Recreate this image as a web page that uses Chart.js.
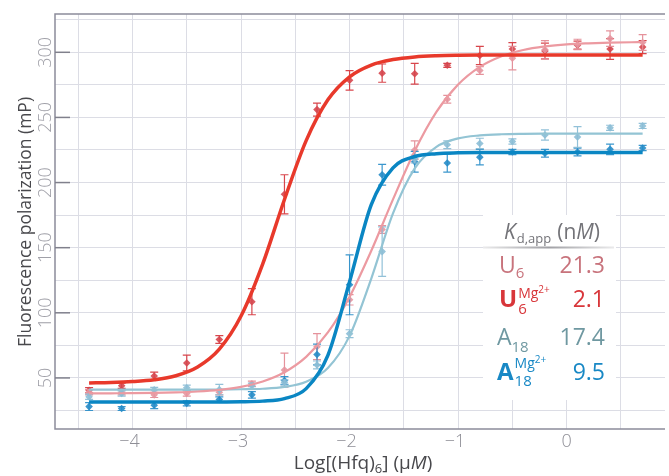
<!DOCTYPE html>
<html>
<head>
<meta charset="utf-8">
<script src="https://cdn.jsdelivr.net/npm/chart.js@4.4.0/dist/chart.umd.min.js"></script>
<style>
  html, body { margin: 0; padding: 0; background: #fff; }
</style>
</head>
<body>
<canvas id="fpChart" width="669" height="476"></canvas>
<script>
// log10 of [(Hfq)6] in uM for each titration point
const logConc = [-4.4, -4.1, -3.8, -3.5, -3.2, -2.9, -2.6, -2.3, -2.0, -1.7, -1.4, -1.1, -0.8, -0.5, -0.2, 0.1, 0.4, 0.7];

// measured polarization (mP) and error
const u6      = [39, 39, 37, 38, 39, 45.5, 56, 74, 110, 164, 225, 264, 286, 295.5, 302, 306, 310.5, 307.5];
const u6Err   = [2, 2, 2, 2, 2, 2, 13, 10, 4, 3, 7, 3, 3, 9, 7, 4, 6, 6];
const u6Mg    = [40.5, 44, 51.5, 61.5, 79.5, 108.5, 191, 256, 278.5, 284, 283.5, 290, 297.5, 302.5, 301, 305.5, 302.5, 304];
const u6MgErr = [2, 2, 3, 6, 3, 10, 15, 5, 7.5, 7, 8, 1.5, 7, 5, 6, 3, 8, 5];
const a18     = [35.5, 38, 40.8, 42.5, 41, 44, 46.5, 60, 84, 147, 218, 229, 230, 231.5, 236.5, 235, 242, 243.5];
const a18Err  = [2, 2, 2, 2, 4, 2, 2, 3, 3, 19, 3, 3, 4, 2, 4, 8, 2, 2];
const a18Mg   = [28, 26.5, 29, 30.5, 33.5, 37, 48, 68, 121.5, 206, 216, 215, 219.5, 223.5, 222.5, 223.5, 225.5, 226.5];
const a18MgErr= [3, 1.5, 2.5, 2, 2, 2.5, 3, 8, 23, 8, 8, 7, 6, 2, 3, 3, 4, 2];

// fitted binding curves
const fitX     = [-4.4, -4.2, -4.0, -3.8, -3.6, -3.4, -3.2, -3.0, -2.8, -2.6, -2.4, -2.2, -2.0, -1.8, -1.6, -1.4, -1.2, -1.0, -0.8, -0.6, -0.4, -0.2, 0.0, 0.2, 0.4, 0.6, 0.7];
const u6Fit    = [38.1, 38.2, 38.3, 38.5, 38.9, 39.6, 40.9, 43.2, 47.3, 54.4, 66.2, 84.9, 112.2, 147.6, 187.1, 224.3, 254.2, 275.2, 288.8, 297.0, 301.8, 304.5, 306.1, 306.9, 307.4, 307.7, 307.8];
const u6MgFit  = [46.2, 46.5, 47.2, 48.6, 51.7, 58.4, 72.1, 97.5, 137.6, 187.0, 232.2, 263.5, 281.2, 290.2, 294.4, 296.4, 297.3, 297.7, 297.9, 298, 298, 298, 298, 298, 298, 298, 298];
const a18Fit   = [41, 41, 41, 41, 41, 41, 41.1, 41.3, 41.7, 43.1, 47.1, 57.6, 82.3, 126.3, 176.4, 210.9, 227.4, 233.9, 236.2, 237.1, 237.4, 237.5, 237.5, 237.5, 237.5, 237.5, 237.5];
const a18MgFit = [31.5, 31.5, 31.5, 31.5, 31.5, 31.5, 31.6, 31.7, 32.2, 34.1, 41.8, 67.3, 123.9, 183.0, 211.3, 220.0, 222.2, 222.8, 223, 223, 223, 223, 223, 223, 223, 223, 223];

// axis ticks / grid
const xTicks = [-4, -3, -2, -1, 0];
const xGrid  = [-4.5, -4, -3.5, -3, -2.5, -2, -1.5, -1, -0.5, 0, 0.5];
const yTicks = [50, 100, 150, 200, 250, 300];
const yGrid  = [25, 50, 75, 100, 125, 150, 175, 200, 225, 250, 275, 300, 325];

// Kd,app table (nM)
const kdValues = ['21.3', '2.1', '17.4', '9.5'];

const FONT = '"Open Sans", "Noto Sans", sans-serif';

function pts(ys, xs) {
  return ys.map((y, i) => ({ x: xs[i], y: y }));
}

function pointSet(label, ys, errs, color, barColor) {
  return {
    type: 'scatter', label: label, data: pts(ys, logConc), errors: errs, barColor: barColor,
    pointStyle: 'rectRot', pointRadius: 3.8, backgroundColor: color, borderWidth: 0, order: 2
  };
}

function fitSet(label, ys, color, width) {
  return {
    type: 'line', label: label, data: pts(ys, fitX), borderColor: color, borderWidth: width,
    pointRadius: 0, fill: false, cubicInterpolationMode: 'monotone', order: 1
  };
}

// error bars, drawn just before each point set
const errorBars = {
  id: 'errorBars',
  beforeDatasetDraw(chart, args) {
    const ds = chart.data.datasets[args.index];
    if (!ds.errors) return;
    const ctx = chart.ctx, y = chart.scales.y;
    ctx.save();
    ctx.strokeStyle = ds.barColor;
    ctx.lineWidth = 1.2;
    args.meta.data.forEach((p, i) => {
      const v = ds.data[i].y, e = ds.errors[i];
      const t = y.getPixelForValue(v + e), b = y.getPixelForValue(v - e);
      ctx.beginPath();
      ctx.moveTo(p.x, t); ctx.lineTo(p.x, b);
      ctx.moveTo(p.x - 4, t); ctx.lineTo(p.x + 4, t);
      ctx.moveTo(p.x - 4, b); ctx.lineTo(p.x + 4, b);
      ctx.stroke();
    });
    ctx.restore();
  }
};

// draw a run of text pieces: [text, font, dy, color, extraGap]
function drawRun(ctx, x, y, parts) {
  parts.forEach(p => {
    ctx.font = p[1];
    ctx.fillStyle = p[3];
    ctx.fillText(p[0], x, y + p[2]);
    x += ctx.measureText(p[0]).width + (p[4] || 0);
  });
  return x;
}

const frame = {
  id: 'frame',
  beforeDatasetsDraw(chart) {
    const ctx = chart.ctx, a = chart.chartArea, xs = chart.scales.x, ys = chart.scales.y;
    ctx.save();
    // axis lines
    ctx.strokeStyle = '#8c8c9a';
    ctx.lineWidth = 1.5;
    ctx.beginPath();
    ctx.moveTo(a.right, a.top); ctx.lineTo(a.left, a.top);
    ctx.lineTo(a.left, a.bottom); ctx.lineTo(a.right, a.bottom);
    ctx.stroke();
    // y tick marks
    ctx.strokeStyle = '#80808c';
    yTicks.forEach(v => {
      const py = ys.getPixelForValue(v);
      ctx.beginPath(); ctx.moveTo(a.left, py); ctx.lineTo(a.left + 15, py); ctx.stroke();
    });
    // y tick labels (rotated)
    ctx.fillStyle = '#a0a0a8';
    ctx.font = '300 18px ' + FONT;
    ctx.textAlign = 'center';
    ctx.textBaseline = 'middle';
    yTicks.forEach(v => {
      ctx.save();
      ctx.translate(46, ys.getPixelForValue(v));
      ctx.rotate(-Math.PI / 2);
      ctx.fillText(String(v), 0, 0);
      ctx.restore();
    });
    // x tick labels
    ctx.fillStyle = '#8e8e96';
    xTicks.forEach(v => {
      ctx.fillText(v < 0 ? '\u2212' + Math.abs(v) : String(v), xs.getPixelForValue(v) - (v < 0 ? 3 : 0), 442);
    });
    // y title
    ctx.fillStyle = '#48484c';
    ctx.save();
    ctx.translate(26, 222);
    ctx.rotate(-Math.PI / 2);
    ctx.font = '17.5px ' + FONT;
    ctx.fillText('Fluorescence polarization (mP)', 0, 0);
    ctx.restore();
    // x title
    ctx.textAlign = 'left';
    ctx.textBaseline = 'alphabetic';
    const tc = '#48484c';
    const f19 = '19px ' + FONT, f13 = '13px ' + FONT, fi19 = 'italic 19px ' + FONT;
    const xParts = [['Log[(Hfq)', f19, 0, tc], ['6', f13, 4, tc], ['] (\u03bc', f19, 0, tc], ['M', fi19, 0, tc], [')', f19, 0, tc]];
    let w = 0;
    xParts.forEach(p => { ctx.font = p[1]; w += ctx.measureText(p[0]).width; });
    drawRun(ctx, 363 - w / 2, 469, xParts);

    // Kd table on white box
    ctx.fillStyle = '#ffffff';
    ctx.fillRect(483, 215, 133, 185);
    const grey = '#737378';
    drawRun(ctx, 504, 239, [['K', 'italic 21px ' + FONT, 0, grey, 1], ['d,app', '13px ' + FONT, 4, grey, 6], ['(n', '21px ' + FONT, 0, grey], ['M', 'italic 21px ' + FONT, 0, grey], [')', '21px ' + FONT, 0, grey]]);
    const g = ctx.createLinearGradient(483, 0, 614, 0);
    g.addColorStop(0, 'rgba(150,150,155,0.2)');
    g.addColorStop(0.5, 'rgba(150,150,155,0.9)');
    g.addColorStop(1, 'rgba(150,150,155,0.2)');
    ctx.strokeStyle = g;
    ctx.lineWidth = 2;
    ctx.beginPath(); ctx.moveTo(483, 247.5); ctx.lineTo(614, 247.5); ctx.stroke();

    const big = '23px ' + FONT, bigB = 'bold 24px ' + FONT, sub = '15px ' + FONT, sup = '14px ' + FONT, sup2 = '10px ' + FONT;
    const c1 = '#c8737c', c2 = '#d8363a', c3 = '#6f98a1', c4 = '#1888c5';
    // U6
    drawRun(ctx, 499, 273, [['U', big, 0, c1], ['6', sub, 5, c1]]);
    // U6 Mg2+
    let x2 = drawRun(ctx, 499, 307, [['U', bigB, 0, c2]]);
    drawRun(ctx, x2 + 1, 307, [['6', sub, 7, c2]]);
    drawRun(ctx, x2 + 1, 307, [['Mg', sup, -9, c2], ['2+', sup2, -14, c2]]);
    // A18
    drawRun(ctx, 497, 345, [['A', big, 0, c3], ['18', sub, 7, c3]]);
    // A18 Mg2+
    let x4 = drawRun(ctx, 497, 380, [['A', bigB, 0, c4]]);
    drawRun(ctx, x4 + 1, 380, [['18', sub, 6, c4]]);
    drawRun(ctx, x4 + 1, 380, [['Mg', sup, -12, c4], ['2+', sup2, -17, c4]]);
    // values
    ctx.textAlign = 'right';
    ctx.font = big;
    [[c1, 273], [c2, 307], [c3, 345], [c4, 380]].forEach((r, i) => {
      ctx.fillStyle = r[0];
      ctx.fillText(kdValues[i], 605, r[1]);
    });
    ctx.restore();
  }
};

new Chart(document.getElementById('fpChart').getContext('2d'), {
  data: {
    datasets: [
      fitSet('U6 Mg fit', u6MgFit, '#e8392b', 3.5),
      fitSet('A18 Mg fit', a18MgFit, '#0a86c3', 3.5),
      fitSet('U6 fit', u6Fit, '#ec9aa1', 2.2),
      fitSet('A18 fit', a18Fit, '#93c4d4', 2.2),
      pointSet('A18', a18, a18Err, 'rgba(140,190,214,0.9)', 'rgba(140,190,214,0.95)'),
      pointSet('A18 Mg', a18Mg, a18MgErr, 'rgba(38,140,200,0.9)', 'rgba(38,140,200,0.9)'),
      pointSet('U6', u6, u6Err, 'rgba(230,150,160,0.9)', 'rgba(228,140,150,0.95)'),
      pointSet('U6 Mg', u6Mg, u6MgErr, 'rgba(214,70,78,0.9)', 'rgba(214,60,66,0.95)')
    ]
  },
  options: {
    responsive: false,
    animation: false,
    devicePixelRatio: 1,
    layout: { padding: { left: 55, top: 14, right: 0, bottom: 47 } },
    plugins: { legend: { display: false }, tooltip: { enabled: false } },
    scales: {
      x: {
        type: 'linear', min: -4.714, max: 0.906,
        afterBuildTicks: s => { s.ticks = xGrid.map(v => ({ value: v })); },
        ticks: { display: false },
        grid: { color: '#dcdde5', lineWidth: 1, drawTicks: false },
        border: { display: false }
      },
      y: {
        type: 'linear', min: 10.8, max: 329.4,
        afterBuildTicks: s => { s.ticks = yGrid.map(v => ({ value: v })); },
        ticks: { display: false },
        grid: { color: '#dcdde5', lineWidth: 1, drawTicks: false },
        border: { display: false }
      }
    }
  },
  plugins: [errorBars, frame]
});
</script>
</body>
</html>
